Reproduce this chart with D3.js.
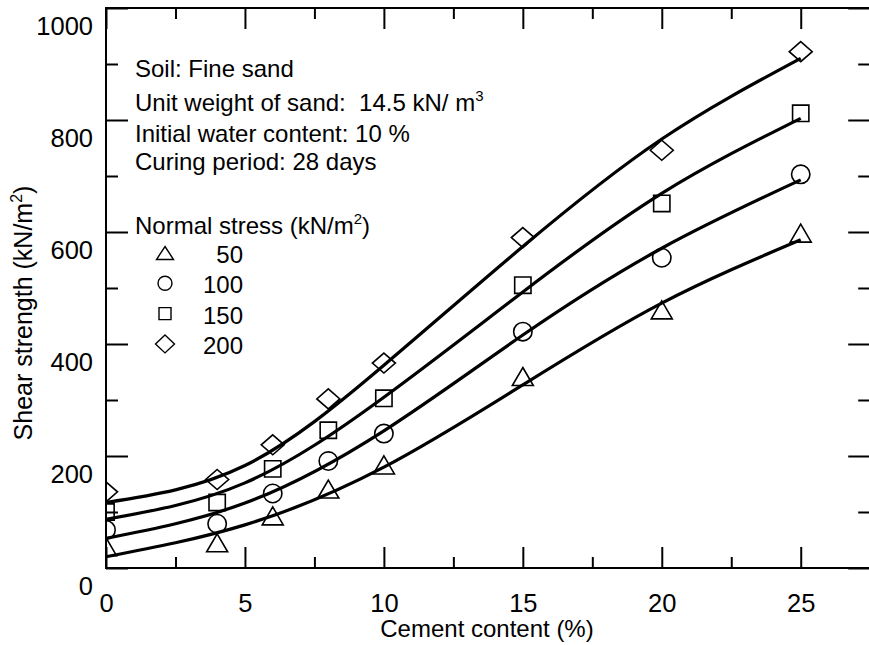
<!DOCTYPE html>
<html>
<head>
<meta charset="utf-8">
<script src="https://cdn.jsdelivr.net/npm/d3@7"></script>
<style>
  body { margin: 0; background: #fff; }
  text { font-family: "Liberation Sans", Arial, Helvetica, sans-serif; fill: #000; }
</style>
</head>
<body>
<div id="chart"></div>
<script>
'use strict';

// measured points, cement content (%) vs shear strength (kN/m2)
var cement = [0, 4, 6, 8, 10, 15, 20, 25];
var stress50 = [38, 45, 93, 141, 184, 342, 461, 598];
var stress100 = [68, 79, 133, 191, 240, 422, 554, 703];
var stress150 = [100, 117, 177, 246, 303, 505, 651, 812];
var stress200 = [136, 158, 220, 302, 366, 590, 746, 922];

// fitted curves
var fitCement = [0, 5, 10, 15, 20, 25];
var fit50 = [20, 77, 180, 327, 473, 586];
var fit100 = [53, 116, 245, 416, 571, 693];
var fit150 = [87, 152, 305, 493, 669, 803];
var fit200 = [117, 183, 362, 574, 766, 910];

var xMajor = [0, 5, 10, 15, 20, 25];
var xMinor = [2.5, 7.5, 12.5, 17.5, 22.5];
var yMajor = [0, 200, 400, 600, 800, 1000];
var yMinor = [100, 300, 500, 700, 900];

var legendLabels = ['50', '100', '150', '200'];
var shapes = ['triangle', 'circle', 'square', 'diamond'];

var series = [
  { name: '50', values: stress50, fit: fit50, shape: 'triangle' },
  { name: '100', values: stress100, fit: fit100, shape: 'circle' },
  { name: '150', values: stress150, fit: fit150, shape: 'square' },
  { name: '200', values: stress200, fit: fit200, shape: 'diamond' }
];

var W = 869, H = 645
  , plotLeft = 106, plotTop = 8, plotBottom = 568
  , fontSize = 24
  , tickFont = 25.5;

var x = d3.scaleLinear().domain([0, 27.5]).range([plotLeft, 870.2]);
var y = d3.scaleLinear().domain([0, 1000]).range([plotBottom, plotTop]);

var svg = d3.select('#chart').append('svg')
    .attr('width', W)
    .attr('height', H)
    .style('font-size', fontSize + 'px');

svg.append('rect').attr('width', W).attr('height', H).attr('fill', '#fff');

svg.append('defs').append('clipPath').attr('id', 'plot')
  .append('rect')
    .attr('x', x(0)).attr('y', y(1000))
    .attr('width', x(27.5) - x(0)).attr('height', y(0) - y(1000));

// shape path centred on 0,0
function shapePath(shape, w, h) {
  if (shape === 'triangle')
    return 'M0,' + (-h / 2) + 'L' + (w / 2) + ',' + (h / 2) + 'L' + (-w / 2) + ',' + (h / 2) + 'Z';
  if (shape === 'square')
    return 'M' + (-w / 2) + ',' + (-w / 2) + 'h' + w + 'v' + w + 'h' + (-w) + 'Z';
  if (shape === 'diamond')
    return 'M0,' + (-h / 2) + 'L' + (w / 2) + ',0L0,' + (h / 2) + 'L' + (-w / 2) + ',0Z';
  var r = w / 2;
  return 'M' + r + ',0A' + r + ',' + r + ' 0 1,1 ' + (-r) + ',0A' + r + ',' + r + ' 0 1,1 ' + r + ',0Z';
}

var markerSize = {
  triangle: [21, 18], circle: [18.4, 18.4], square: [16.3, 16.3], diamond: [23, 20]
};
var legendSize = {
  triangle: [17, 13], circle: [14, 14], square: [12, 12], diamond: [19, 18]
};

// axes: ticks point inwards on all four sides
function styleAxis(g) {
  g.select('.domain').remove();
  g.selectAll('line').attr('stroke', '#000').attr('stroke-width', 2);
  g.selectAll('text')
    .style('font-size', tickFont + 'px')
    .style('font-family', '"Liberation Sans", Arial, sans-serif')
    .attr('fill', '#000');
}

svg.append('g')
    .attr('transform', 'translate(0,' + plotBottom + ')')
    .call(d3.axisBottom(x).tickValues(xMajor).tickSize(-21).tickPadding(26).tickFormat(d3.format('d')))
    .call(styleAxis);
svg.append('g')
    .attr('transform', 'translate(0,' + plotBottom + ')')
    .call(d3.axisBottom(x).tickValues(xMinor).tickSize(-11).tickFormat(''))
    .call(styleAxis);
svg.append('g')
    .attr('transform', 'translate(0,' + plotTop + ')')
    .call(d3.axisTop(x).tickValues(xMajor).tickSize(-21).tickFormat(''))
    .call(styleAxis);
svg.append('g')
    .attr('transform', 'translate(0,' + plotTop + ')')
    .call(d3.axisTop(x).tickValues(xMinor).tickSize(-11).tickFormat(''))
    .call(styleAxis);

var yLeft = svg.append('g')
    .attr('transform', 'translate(' + plotLeft + ',0)')
    .call(d3.axisLeft(y).tickValues(yMajor).tickSize(-22).tickPadding(13).tickFormat(d3.format('d')))
    .call(styleAxis);
// labels sit below their ticks in the original
yLeft.selectAll('text').attr('dy', 26.5);

svg.append('g')
    .attr('transform', 'translate(' + plotLeft + ',0)')
    .call(d3.axisLeft(y).tickValues(yMinor).tickSize(-12).tickFormat(''))
    .call(styleAxis);
svg.append('g')
    .attr('transform', 'translate(' + x(27.5) + ',0)')
    .call(d3.axisRight(y).tickValues(yMajor).tickSize(-22).tickFormat(''))
    .call(styleAxis);
svg.append('g')
    .attr('transform', 'translate(' + x(27.5) + ',0)')
    .call(d3.axisRight(y).tickValues(yMinor).tickSize(-12).tickFormat(''))
    .call(styleAxis);

// frame
svg.append('rect')
    .attr('x', x(0)).attr('y', y(1000))
    .attr('width', x(27.5) - x(0)).attr('height', y(0) - y(1000))
    .attr('fill', 'none')
    .attr('stroke', '#000')
    .attr('stroke-width', 2);

// fitted curves
var line = d3.line()
    .x(function (d) { return x(d[0]); })
    .y(function (d) { return y(d[1]); })
    .curve(d3.curveNatural);

series.forEach(function (s) {
  svg.append('path')
      .datum(fitCement.map(function (c, i) { return [c, s.fit[i]]; }))
      .attr('d', line)
      .attr('fill', 'none')
      .attr('stroke', '#000')
      .attr('stroke-width', 3.2)
      .attr('stroke-linejoin', 'round');
});

// measured points
var pts = svg.append('g').attr('clip-path', 'url(#plot)');
series.forEach(function (s) {
  var sz = markerSize[s.shape];
  pts.selectAll(null)
      .data(cement.map(function (c, i) { return [c, s.values[i]]; }))
    .enter().append('path')
      .attr('transform', function (d) { return 'translate(' + x(d[0]) + ',' + y(d[1]) + ')'; })
      .attr('d', shapePath(s.shape, sz[0], sz[1]))
      .attr('fill', 'none')
      .attr('stroke', '#000')
      .attr('stroke-width', 1.6);
});

// notes
var notes = svg.append('g').attr('transform', 'translate(135,0)');
notes.append('text').attr('y', 76.5).text('Soil: Fine sand');
var unit = notes.append('text').attr('y', 110.5);
unit.append('tspan').text('Unit weight of sand:\u00a0\u00a014.5 kN/ m');
unit.append('tspan').attr('dy', -10).style('font-size', '15px').text('3');
notes.append('text').attr('y', 141.5).text('Initial water content: 10 %');
notes.append('text').attr('y', 169.5).text('Curing period: 28 days');

var lt = notes.append('text').attr('y', 233.5);
lt.append('tspan').text('Normal stress (kN/m');
lt.append('tspan').attr('dy', -10).style('font-size', '15px').text('2');
lt.append('tspan').attr('dy', 10).text(')');

// legend
var legend = svg.append('g');
legendLabels.forEach(function (lab, i) {
  var cy = 253 + i * 30.3
    , sz = legendSize[shapes[i]];
  legend.append('path')
      .attr('transform', 'translate(165,' + cy + ')')
      .attr('d', shapePath(shapes[i], sz[0], sz[1]))
      .attr('fill', 'none')
      .attr('stroke', '#000')
      .attr('stroke-width', 1.4);
  legend.append('text')
      .attr('x', 243)
      .attr('y', cy + 10)
      .style('text-anchor', 'end')
      .text(lab);
});

// axis titles
svg.append('text')
    .attr('x', 487)
    .attr('y', 637)
    .style('text-anchor', 'middle')
    .text('Cement content (%)');

var yt = svg.append('text')
    .attr('transform', 'translate(32,313) rotate(-90)')
    .style('text-anchor', 'middle')
    .style('font-size', '25px');
yt.append('tspan').text('Shear strength (kN/m');
yt.append('tspan').attr('dy', -10).style('font-size', '16px').text('2');
yt.append('tspan').attr('dy', 10).text(')');
</script>
</body>
</html>
